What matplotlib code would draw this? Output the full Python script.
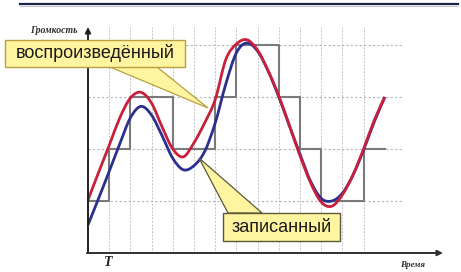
import numpy as np
import matplotlib
matplotlib.use('Agg')
from matplotlib import pyplot as plt
from matplotlib.patches import Polygon, Rectangle, PathPatch
from matplotlib.path import Path
from matplotlib.lines import Line2D


# time in sampling periods T, level in grid units
t = [0.0, 0.5, 1.0, 1.5, 2.0, 2.5, 3.0, 3.5, 4.0, 4.5, 5.0, 5.5, 6.0, 6.5,
     7.0, 7.5, 8.0, 8.5, 9.0, 9.5, 10.0, 10.5, 11.0, 11.5, 12.0, 12.5, 13.0,
     13.5, 14.0]

# reproduced signal (red)
played = [1.02, 1.55, 2.07, 2.60, 2.98, 3.09, 2.88, 2.42, 2.00, 1.85, 2.12,
          2.50, 2.95, 3.72, 4.02, 4.10, 3.90, 3.50, 3.02, 2.45, 1.87, 1.35,
          0.98, 0.90, 1.12, 1.50, 2.00, 2.55, 3.00]

# recorded signal (blue)
recorded = [0.54, 1.05, 1.57, 2.10, 2.60, 2.82, 2.65, 2.25, 1.82, 1.60, 1.68,
            1.95, 2.50, 3.25, 3.85, 4.04, 3.88, 3.50, 3.00, 2.45, 1.90, 1.38,
            1.05, 1.00, 1.15, 1.50, 1.98, 2.52, 3.00]

# sampled levels, one per period
samples = [1, 2, 3, 3, 2, 2, 3, 4, 4, 3, 2, 1, 1, 2]

label_played = 'воспроизведённый'
label_recorded = 'записанный'
label_y = 'Громкость'
label_x = 'Время'
label_T = 'T'


# pixel layout helpers (axes fill the whole figure)
X0, DX = 88, 21.2
Y0, DY = 253, 52


def px(x):
    return (x - X0) / DX


def py(y):
    return (Y0 - y) / DY


# smooth curve through the points (Catmull-Rom drawn as Bezier segments)
def smooth_path(xs, ys):
    p = np.column_stack([xs, ys]).astype(float)
    pts = np.vstack([p[0], p, p[-1]])
    verts = [p[0]]
    codes = [Path.MOVETO]
    for i in range(1, len(pts) - 2):
        c1 = pts[i] + (pts[i + 1] - pts[i - 1]) / 6
        c2 = pts[i + 1] - (pts[i + 2] - pts[i]) / 6
        verts += [c1, c2, pts[i + 1]]
        codes += [Path.CURVE4] * 3
    return Path(verts, codes)


fig = plt.figure(figsize=(4.61, 2.72), dpi=100)
ax = fig.add_axes([0, 0, 1, 1])
ax.set_xlim(px(0), px(461))
ax.set_ylim(py(272), py(0))
ax.axis('off')

# grid
for k in range(1, 14):
    ax.plot([k, k], [0, py(27)], color='#c4c4c4', lw=0.7, ls=(0, (2, 1.5)), zorder=1)
for lev in range(1, 5):
    ax.plot([0, px(402)], [lev, lev], color='#b4b4b4', lw=0.8, ls=(0, (2, 2)), zorder=1)

# staircase of samples
edges = np.arange(len(samples) + 1)
ax.step(edges, samples + [samples[-1]], where='post', color='#7a7a7a', lw=1.5, zorder=2)

# curves
ax.add_patch(PathPatch(smooth_path(t, recorded), facecolor='none',
                       edgecolor='#2b2f8f', lw=2.0, zorder=3))
ax.add_patch(PathPatch(smooth_path(t, played), facecolor='none',
                       edgecolor='#c8203c', lw=2.0, zorder=4))

# axes with arrows
ax.annotate('', xy=(0, py(27)), xytext=(0, 0),
            arrowprops=dict(arrowstyle='-|>', color='#202020', lw=1.4, mutation_scale=8,
                            shrinkA=0, shrinkB=0), zorder=5)
ax.annotate('', xy=(px(443), 0), xytext=(-0.05, 0),
            arrowprops=dict(arrowstyle='-|>', color='#303030', lw=1.4, mutation_scale=8,
                            shrinkA=0, shrinkB=0), zorder=5)

ax.text(px(78), py(31), label_y, ha='right', va='center', fontsize=7,
        family='Liberation Serif', style='italic', weight='bold', color='#303030')
ax.text(px(413), py(265), label_x, ha='center', va='center', fontsize=6.5,
        family='Liberation Serif', style='italic', weight='bold', color='#303030')
ax.text(px(108), py(263), label_T, ha='center', va='center', fontsize=10,
        family='Liberation Serif', style='italic', weight='bold', color='#202020')


# callouts
def callout(x1, y1, x2, y2, base, tip, text, edge):
    # tail first, then box over it
    tail = Polygon([(px(base[0]), py(base[2])), (px(tip[0]), py(tip[1])),
                    (px(base[1]), py(base[2]))],
                   closed=True, facecolor='#fff4a0', edgecolor=edge, lw=0.9, zorder=6)
    ax.add_patch(tail)
    box = Rectangle((px(x1), py(y2)), px(x2) - px(x1), py(y1) - py(y2),
                    facecolor='#fff4a0', edgecolor=edge, lw=1.0, zorder=7)
    ax.add_patch(box)
    ax.text((px(x1) + px(x2)) / 2, (py(y1) + py(y2)) / 2, text, ha='center', va='center',
            fontsize=13, family='Liberation Sans', color='#1a1a1a', zorder=9)


callout(5, 40, 185, 67, (110, 157, 67), (208, 108), label_played, '#b8a040')
callout(223, 213, 340, 241, (228, 262, 213), (199, 158), label_recorded, '#5a5a3a')

# rule at the top of the slide
fig.add_artist(Line2D([20 / 461, 458 / 461], [1 - 3.5 / 272, 1 - 3.5 / 272],
                      color='#1c2448', lw=1.6))
fig.add_artist(Line2D([20 / 461, 458 / 461], [1 - 5.5 / 272, 1 - 5.5 / 272],
                      color='#c8c8d0', lw=0.8))

fig.savefig('out.png', dpi=100, facecolor='white')
